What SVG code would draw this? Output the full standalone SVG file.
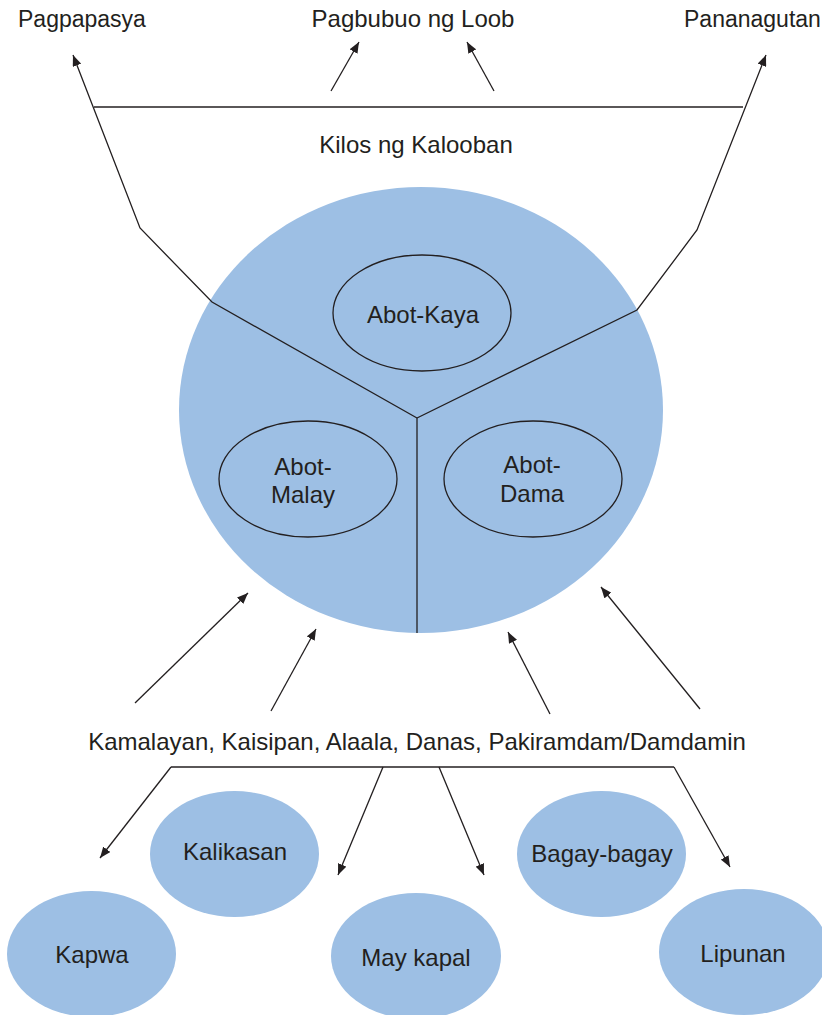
<svg xmlns="http://www.w3.org/2000/svg" width="822" height="1015" viewBox="0 0 822 1015">
<defs>
<style>
text{font-family:"Liberation Sans",Arial,sans-serif;font-size:24px;fill:#231f20}
.m{text-anchor:middle}
.s23{font-size:23px}
.blob{fill:#9dbfe4}
.inner{fill:none;stroke:#231f20;stroke-width:1.3}
.ln{fill:none;stroke:#231f20;stroke-width:1.3}
.arr{fill:none;stroke:#231f20;stroke-width:1.3;marker-end:url(#ah)}
</style>
<marker id="ah" markerUnits="userSpaceOnUse" markerWidth="12" markerHeight="9" refX="11" refY="4.5" orient="auto">
<path d="M0,0 L11,4.5 L0,9 Z" fill="#231f20"/>
</marker>
</defs>
<rect width="822" height="1015" fill="#ffffff"/>

<g id="kalooban">
<ellipse class="blob" cx="421" cy="410" rx="242" ry="223"/>
</g>

<g id="connectors">
<line class="ln" x1="94" y1="107" x2="743" y2="107"/>
<polyline class="arr" points="417,418 212,302 140,228 73,55"/>
<polyline class="arr" points="417,418 637,310 697,230 766,55"/>
<line class="ln" x1="417" y1="418" x2="417" y2="633"/>
<line class="arr" x1="331" y1="91" x2="359" y2="42"/>
<line class="arr" x1="494" y1="91" x2="467" y2="42"/>
<line class="arr" x1="135" y1="703" x2="248" y2="593"/>
<line class="arr" x1="271" y1="711" x2="316" y2="629"/>
<line class="arr" x1="550" y1="714" x2="508" y2="632"/>
<line class="arr" x1="700" y1="709" x2="601" y2="587"/>
<line class="ln" x1="171" y1="767" x2="674" y2="767"/>
<line class="arr" x1="171" y1="767" x2="100" y2="858"/>
<line class="arr" x1="383" y1="767" x2="338" y2="875"/>
<line class="arr" x1="439" y1="767" x2="484" y2="875"/>
<line class="arr" x1="674" y1="767" x2="730" y2="867"/>
</g>

<g id="top-labels">
<text class="s23" x="18" y="27">Pagpapasya</text>
<text class="m" x="413" y="27">Pagbubuo ng Loob</text>
<text class="s23" x="684" y="27">Pananagutan</text>
<text class="m" x="416" y="153">Kilos ng Kalooban</text>
</g>

<g id="abot-kaya">
<ellipse class="inner" cx="422" cy="313" rx="89" ry="58"/>
<text class="m" x="423" y="323">Abot-Kaya</text>
</g>
<g id="abot-malay">
<ellipse class="inner" cx="308" cy="479" rx="89" ry="58"/>
<text class="m" x="303" y="475">Abot-</text>
<text class="m" x="303" y="503">Malay</text>
</g>
<g id="abot-dama">
<ellipse class="inner" cx="533" cy="479" rx="89" ry="58"/>
<text class="m" x="532" y="473">Abot-</text>
<text class="m" x="532" y="502">Dama</text>
</g>

<g id="sources">
<text class="m" x="417" y="750">Kamalayan, Kaisipan, Alaala, Danas, Pakiramdam/Damdamin</text>
</g>

<g id="kalikasan">
<ellipse class="blob" cx="234.5" cy="854" rx="84.5" ry="63"/>
<text class="m" x="235" y="860">Kalikasan</text>
</g>
<g id="kapwa">
<ellipse class="blob" cx="91.5" cy="954" rx="84.5" ry="63"/>
<text class="m" x="92" y="963">Kapwa</text>
</g>
<g id="may-kapal">
<ellipse class="blob" cx="416" cy="956" rx="85" ry="63"/>
<text class="m" x="416" y="966">May kapal</text>
</g>
<g id="bagay-bagay">
<ellipse class="blob" cx="601.5" cy="854" rx="84.5" ry="63"/>
<text class="m" x="602" y="862">Bagay-bagay</text>
</g>
<g id="lipunan">
<ellipse class="blob" cx="744" cy="952" rx="85" ry="63"/>
<text class="m" x="743" y="962">Lipunan</text>
</g>
</svg>
